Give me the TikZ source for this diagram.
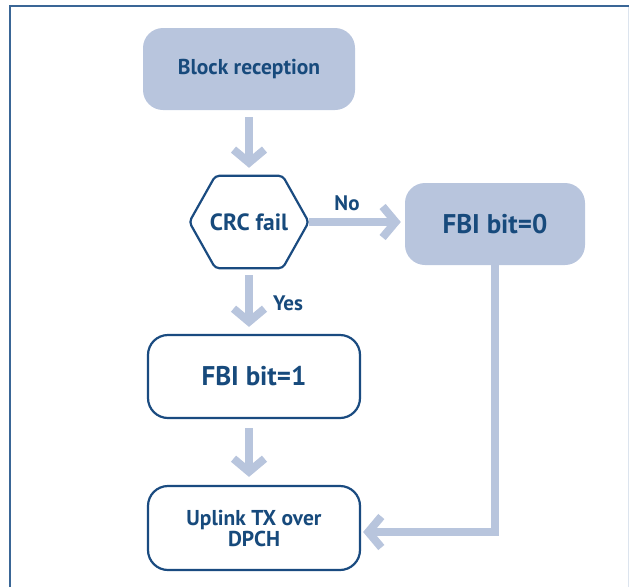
\documentclass[tikz,border=0pt]{standalone}
\usepackage{fontspec}
\setmainfont{PT Sans}
\usetikzlibrary{arrows.meta,calc}
\definecolor{lb}{HTML}{B8C5DD}
\definecolor{db}{HTML}{1A4B80}
\definecolor{tb}{HTML}{174A7C}
\definecolor{fr}{HTML}{3A6696}
\definecolor{fr2}{HTML}{DCE4EE}
\begin{document}
\begin{tikzpicture}[x=1pt,y=-1pt,
  box/.style={rounded corners=20pt, minimum width=212pt, minimum height=82pt,
    text=tb, align=center, inner sep=0pt, font=\bfseries\fontsize{21.5}{21}\selectfont},
  filled/.style={box, fill=lb},
  outlined/.style={box, draw=db, line width=2.2pt, fill=white},
  big/.style={font=\bfseries\fontsize{27}{28}\selectfont},
  flow/.style={draw=lb, line width=8pt, -{Straight Barb[length=13pt,width=31pt]}},
  lbl/.style={font=\bfseries\fontsize{21}{22}\selectfont, text=tb, inner sep=0pt}]
\useasboundingbox (0,0) rectangle (629,587);
\draw[fr2, line width=1pt] (628,6) -- (628,587);
\draw[fr, line width=2pt] (10,587) -- (10,6) -- (629,6);

\node[filled] (block) at (249,69) {Block reception};
\node[inner sep=0pt, minimum width=119pt, minimum height=92pt, text=tb,
      font=\bfseries\fontsize{23.5}{24}\selectfont] (crc) at (249,222) {CRC fail};
\draw[db, line width=2.2pt, rounded corners=4pt]
  (crc.west) -- ($(crc.north west)+(26,0)$) -- ($(crc.north east)+(-26,0)$)
  -- (crc.east) -- ($(crc.south east)+(-26,0)$) -- ($(crc.south west)+(26,0)$) -- cycle;
\node[filled, big, minimum width=180pt] (fbi0) at (495,224) {FBI bit=0};
\node[outlined, big, minimum height=83pt] (fbi1) at (254,376.5) {FBI bit=1};
\node[outlined, minimum height=84pt] (up) at (254,528) {Uplink TX over\\DPCH};

\node[lbl] (no) at (347,203) {No};
\node[lbl] (yes) at (288,303) {Yes};

\draw[flow, shorten <=7pt, shorten >=8pt] (block.south) -- (crc.north);
\draw[flow, shorten >=4pt] (crc.east) -- (crc.east -| fbi0.west);
\draw[flow, shorten <=7pt, shorten >=7pt] (crc.south) -- (fbi1.north -| crc.south);
\draw[flow, shorten <=9pt, shorten >=8pt] (fbi1.south -| crc.south) -- (up.north -| crc.south);
\draw[flow, shorten >=2pt] (fbi0.south) |- ([yshift=-4pt]up.east);
\end{tikzpicture}
\end{document}
